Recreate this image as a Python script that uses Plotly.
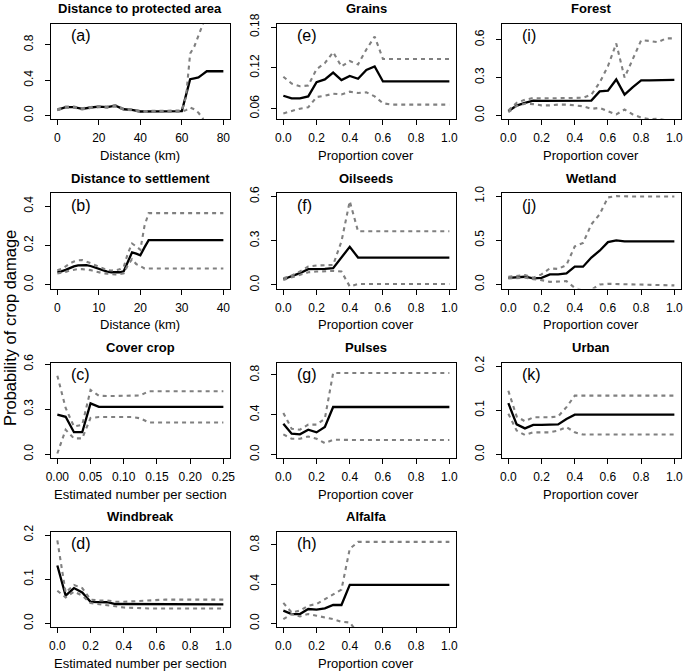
import plotly.graph_objects as go

# ---------------- data ----------------
P21 = [round(i * 0.05, 2) for i in range(21)]

# (a) Distance to protected area
a_x = [0, 4, 8, 12, 16, 20, 24, 28, 32, 36, 40, 44, 48, 52, 56, 60, 62, 64, 66, 68, 70, 72, 76, 80]
a_fit = [0.064, 0.094, 0.094, 0.075, 0.090, 0.100, 0.094, 0.110, 0.070, 0.064, 0.045, 0.045, 0.045, 0.045,
         0.045, 0.050, 0.230, 0.410, 0.420, 0.430, 0.465, 0.500, 0.500, 0.500]
a_up = [0.070, 0.100, 0.100, 0.082, 0.096, 0.106, 0.100, 0.117, 0.076, 0.070, 0.050, 0.050, 0.050, 0.050,
        0.050, 0.056, 0.210, 0.700, 0.780, 0.900, 1.020, 1.150, 1.200, 1.200]
a_lo = [0.058, 0.088, 0.088, 0.068, 0.084, 0.094, 0.088, 0.103, 0.064, 0.058, 0.040, 0.040, 0.040, 0.040,
        0.040, 0.044, 0.060, 0.090, 0.070, 0.030, -0.030, -0.150, -0.200, -0.200]

# (b) Distance to settlement
b_x = list(range(23)) + [40]
b_fit = [0.065, 0.068, 0.075, 0.085, 0.093, 0.098, 0.100, 0.099, 0.095, 0.088, 0.080, 0.072, 0.066, 0.063,
         0.062, 0.063, 0.068, 0.120, 0.165, 0.158, 0.150, 0.190, 0.227, 0.227]
b_up = [0.073, 0.080, 0.093, 0.108, 0.118, 0.124, 0.125, 0.118, 0.110, 0.100, 0.090, 0.080, 0.074, 0.072,
        0.073, 0.078, 0.090, 0.160, 0.210, 0.195, 0.178, 0.300, 0.365, 0.365]
b_lo = [0.057, 0.060, 0.065, 0.072, 0.077, 0.079, 0.079, 0.078, 0.074, 0.068, 0.062, 0.058, 0.056, 0.053,
        0.052, 0.053, 0.058, 0.100, 0.130, 0.105, 0.095, 0.083, 0.082, 0.082]

# (c) Cover crop
c_x = [round(i * 0.0125, 4) for i in range(21)]
c_fit = [0.264, 0.250, 0.147, 0.147, 0.339, 0.316] + [0.316] * 15
c_up = [0.524, 0.309, 0.185, 0.196, 0.429, 0.390, 0.388, 0.388, 0.388, 0.388, 0.392] + [0.420] * 10
c_lo = [0.005, 0.163, 0.106, 0.106, 0.242, 0.248, 0.248, 0.248, 0.248, 0.248, 0.240] + [0.212] * 10

# (d) Windbreak
d_fit = [0.131, 0.063, 0.080, 0.070, 0.049, 0.049, 0.048, 0.044] + [0.044] * 12 + [0.043]
d_up = [0.188, 0.070, 0.087, 0.080, 0.054, 0.052, 0.052, 0.049, 0.049, 0.050, 0.052, 0.053] + [0.054] * 9
d_lo = [0.074, 0.059, 0.072, 0.063, 0.046, 0.044, 0.042, 0.039, 0.036, 0.035] + [0.034] * 11

# (e) Grains
e_fit = [0.079, 0.075, 0.075, 0.078, 0.099, 0.103, 0.113, 0.102, 0.108, 0.104, 0.117, 0.122] + [0.100] * 9
e_up = [0.107, 0.097, 0.093, 0.094, 0.118, 0.127, 0.143, 0.122, 0.130, 0.125, 0.147, 0.166] + [0.133] * 9
e_lo = [0.053, 0.057, 0.060, 0.062, 0.077, 0.079, 0.082, 0.081, 0.085, 0.083, 0.084, 0.078, 0.068] + [0.066] * 8

# (f) Oilseeds
f_fit = [0.039, 0.057, 0.080, 0.107, 0.107, 0.109, 0.114, 0.186, 0.259] + [0.186] * 12
f_up = [0.045, 0.064, 0.091, 0.125, 0.132, 0.132, 0.136, 0.295, 0.568] + [0.364] * 12
f_lo = [0.034, 0.050, 0.068, 0.086, 0.091, 0.095, 0.095, 0.091, -0.010] + [0.007] * 12

# (g) Pulses
g_fit = [0.309, 0.208, 0.202, 0.249, 0.222, 0.276] + [0.477] * 15
g_up = [0.417, 0.259, 0.249, 0.300, 0.300, 0.360] + [0.820] * 15
g_lo = [0.202, 0.158, 0.158, 0.180, 0.158, 0.114, 0.148] + [0.145] * 14

# (h) Alfalfa
h_fit = [0.130, 0.096, 0.096, 0.147, 0.140, 0.154, 0.188, 0.188] + [0.393] * 13
h_up = [0.209, 0.113, 0.130, 0.181, 0.198, 0.250, 0.300, 0.345, 0.760] + [0.830] * 12
h_lo = [0.044, 0.096, 0.072, 0.096, 0.079, 0.062, 0.044, 0.017, 0.010] + [-0.100] * 12

# (i) Forest
i_fit = [0.034, 0.078, 0.100, 0.118, 0.115, 0.115, 0.115, 0.115, 0.115, 0.115, 0.118, 0.190, 0.196, 0.285,
         0.165, 0.225, 0.277, 0.277, 0.277, 0.280, 0.282]
i_up = [0.040, 0.100, 0.125, 0.138, 0.135, 0.135, 0.135, 0.135, 0.135, 0.140, 0.165, 0.260, 0.390, 0.570,
        0.300, 0.450, 0.595, 0.590, 0.580, 0.610, 0.610]
i_lo = [0.026, 0.075, 0.093, 0.090, 0.080, 0.080, 0.086, 0.086, 0.080, 0.073, 0.052, 0.060, 0.034, 0.008,
        0.047, 0.008, -0.018, -0.030, -0.026, -0.040, -0.050]

# (j) Wetland
j_fit = [0.076, 0.080, 0.088, 0.069, 0.076, 0.115, 0.115, 0.126, 0.202, 0.202, 0.305, 0.382, 0.480, 0.500] + [0.489] * 7
j_up = [0.088, 0.100, 0.107, 0.076, 0.115, 0.183, 0.176, 0.221, 0.431, 0.470, 0.680, 0.794, 0.985, 1.000] + [0.995] * 7
j_lo = [0.069, 0.069, 0.076, 0.061, 0.050, 0.030, 0.038, 0.038, -0.038, -0.070, -0.060, 0.000, 0.008, 0.006,
        0.005, 0.005, 0.005, 0.004, 0.000, -0.005, -0.010]

# (k) Urban
k_fit = [0.116, 0.068, 0.059, 0.067, 0.067, 0.067, 0.068, 0.080] + [0.090] * 13
k_up = [0.144, 0.086, 0.075, 0.084, 0.084, 0.084, 0.086, 0.107] + [0.133] * 13
k_lo = [0.092, 0.054, 0.044, 0.050, 0.050, 0.050, 0.054, 0.062, 0.050] + [0.045] * 12

# ticks
tick_dist80 = [0, 20, 40, 60, 80]
tick_dist40 = [0, 10, 20, 30, 40]
tick_cover = [0.0, 0.2, 0.4, 0.6, 0.8, 1.0]
tick_cover_lbl = ["0.0", "0.2", "0.4", "0.6", "0.8", "1.0"]
tick_cc = [0.0, 0.05, 0.10, 0.15, 0.20, 0.25]
tick_cc_lbl = ["0.00", "0.05", "0.10", "0.15", "0.20", "0.25"]

panels = [
    ("(a)", "Distance to protected area", "Distance (km)", a_x, a_fit, a_up, a_lo, [-3.2, 83.2],
     tick_dist80, [str(v) for v in tick_dist80], [-0.04, 1.04], [0, 0.4, 0.8], ["0.0", "0.4", "0.8"], 0, 0),
    ("(b)", "Distance to settlement", "Distance (km)", b_x, b_fit, b_up, b_lo, [-1.6, 41.6],
     tick_dist40, [str(v) for v in tick_dist40], [-0.02, 0.468], [0, 0.2, 0.4], ["0.0", "0.2", "0.4"], 0, 1),
    ("(c)", "Cover crop", "Estimated number per section", c_x, c_fit, c_up, c_lo, [-0.01, 0.26],
     tick_cc, tick_cc_lbl, [-0.025, 0.612], [0, 0.3, 0.6], ["0.0", "0.3", "0.6"], 0, 2),
    ("(d)", "Windbreak", "Estimated number per section", P21, d_fit, d_up, d_lo, [-0.04, 1.04],
     tick_cover, tick_cover_lbl, [-0.008, 0.208], [0, 0.1, 0.2], ["0.0", "0.1", "0.2"], 0, 3),
    ("(e)", "Grains", "Proportion cover", P21, e_fit, e_up, e_lo, [-0.04, 1.04],
     tick_cover, tick_cover_lbl, [0.0448, 0.1852], [0.06, 0.12, 0.18], ["0.06", "0.12", "0.18"], 1, 0),
    ("(f)", "Oilseeds", "Proportion cover", P21, f_fit, f_up, f_lo, [-0.04, 1.04],
     tick_cover, tick_cover_lbl, [-0.024, 0.624], [0, 0.3, 0.6], ["0.0", "0.3", "0.6"], 1, 1),
    ("(g)", "Pulses", "Proportion cover", P21, g_fit, g_up, g_lo, [-0.04, 1.04],
     tick_cover, tick_cover_lbl, [-0.036, 0.925], [0, 0.4, 0.8], ["0.0", "0.4", "0.8"], 1, 2),
    ("(h)", "Alfalfa", "Proportion cover", P21, h_fit, h_up, h_lo, [-0.04, 1.04],
     tick_cover, tick_cover_lbl, [-0.036, 0.936], [0, 0.4, 0.8], ["0.0", "0.4", "0.8"], 1, 3),
    ("(i)", "Forest", "Proportion cover", P21, i_fit, i_up, i_lo, [-0.04, 1.04],
     tick_cover, tick_cover_lbl, [-0.028, 0.728], [0, 0.3, 0.6], ["0.0", "0.3", "0.6"], 2, 0),
    ("(j)", "Wetland", "Proportion cover", P21, j_fit, j_up, j_lo, [-0.04, 1.04],
     tick_cover, tick_cover_lbl, [-0.045, 1.035], [0, 0.5, 1.0], ["0.0", "0.5", "1.0"], 2, 1),
    ("(k)", "Urban", "Proportion cover", P21, k_fit, k_up, k_lo, [-0.04, 1.04],
     tick_cover, tick_cover_lbl, [-0.008, 0.208], [0, 0.1, 0.2], ["0.0", "0.1", "0.2"], 2, 2),
]

# ---------------- layout geometry (pixels) ----------------
W, H = 685, 671
col_left = [50.7, 276.7, 501.7]
box_w = 179.3
row_top = [23.5, 193.0, 362.5, 531.5]
box_h = 95.5

FONT = "Liberation Sans, Arial, Helvetica, sans-serif"
GREY = "#808080"

fig = go.Figure()
layout = dict(
    template="none",
    width=W, height=H, autosize=False,
    margin=dict(l=0, r=0, t=0, b=0, pad=0),
    plot_bgcolor="white", paper_bgcolor="white",
    showlegend=False,
    font=dict(family=FONT, color="black", size=12),
)
annotations = []

def px2x(px):
    return px / W

def px2y(py):
    return 1 - py / H

for n, (letter, title, xtitle, xs, fit, up, lo, xr, xt, xl, yr, yt, yl, col, row) in enumerate(panels, start=1):
    xa = "x" if n == 1 else f"x{n}"
    ya = "y" if n == 1 else f"y{n}"
    left = col_left[col]
    right = left + box_w
    top = row_top[row]
    bottom = top + box_h
    fig.add_trace(go.Scatter(x=xs, y=fit, mode="lines", xaxis=xa, yaxis=ya,
                             line=dict(color="black", width=2.3)))
    for ci in (up, lo):
        fig.add_trace(go.Scatter(x=xs, y=ci, mode="lines", xaxis=xa, yaxis=ya,
                                 line=dict(color=GREY, width=2.1, dash="4px,4px")))
    axcommon = dict(showgrid=False, zeroline=False, showline=True, mirror=True, automargin=False,
                    linecolor="black", linewidth=1, ticks="outside", ticklen=5,
                    tickcolor="black", tickwidth=1, fixedrange=True,
                    tickfont=dict(family=FONT, size=12, color="black"))
    layout["xaxis" if n == 1 else f"xaxis{n}"] = dict(
        axcommon, domain=[px2x(left), px2x(right)], range=xr, tickvals=xt, ticktext=xl,
        anchor=ya, ticklabelstandoff=3)
    layout["yaxis" if n == 1 else f"yaxis{n}"] = dict(
        axcommon, domain=[px2y(bottom), px2y(top)], range=yr, tickvals=yt, ticktext=yl,
        anchor=xa, tickangle=-90, ticklabelstandoff=7)
    cx = (left + right) / 2
    annotations.append(dict(text=f"<b>{title}</b>", x=px2x(cx), y=px2y(top - 15), xref="paper", yref="paper",
                            xanchor="center", yanchor="middle", showarrow=False,
                            font=dict(family=FONT, size=13, color="black")))
    annotations.append(dict(text=xtitle, x=px2x(cx), y=px2y(bottom + 36), xref="paper", yref="paper",
                            xanchor="center", yanchor="middle", showarrow=False,
                            font=dict(family=FONT, size=13, color="black")))
    annotations.append(dict(text=letter, x=px2x(left + 18), y=px2y(top + 12), xref="paper", yref="paper",
                            xanchor="left", yanchor="middle", showarrow=False,
                            font=dict(family=FONT, size=16, color="black")))

annotations.append(dict(text="Probability of crop damage", x=px2x(10), y=px2y(328), xref="paper", yref="paper",
                        xanchor="center", yanchor="middle", textangle=-90, showarrow=False,
                        font=dict(family=FONT, size=16.5, color="black")))

layout["annotations"] = annotations
fig.update_layout(**layout)
fig.write_html("out.html", config={"displayModeBar": False},
               post_script="document.body.style.margin='0';document.body.style.overflow='hidden';")
